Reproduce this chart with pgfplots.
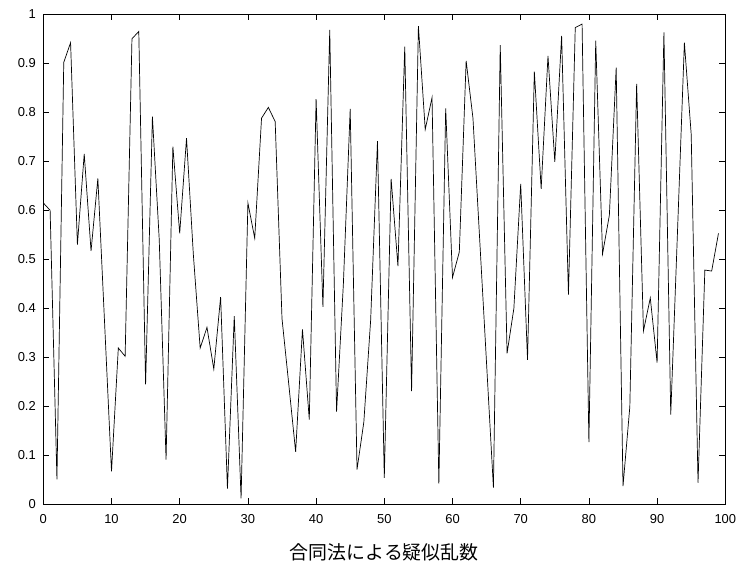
\documentclass[border=0pt]{standalone}
\usepackage{fontspec}
\setmainfont{Liberation Sans}
\newfontfamily\cjk{Noto Sans CJK JP}
\usepackage{pgfplots}
\pgfplotsset{compat=1.18}

\begin{document}
\begin{tikzpicture}
\begin{axis}[
    at={(0bp,0bp)}, anchor=south west,
    scale only axis,
    width=682bp, height=490bp,
    xmin=0, xmax=100, ymin=0, ymax=1,
    xtick={0,10,20,30,40,50,60,70,80,90,100},
    ytick={0,0.1,0.2,0.3,0.4,0.5,0.6,0.7,0.8,0.9,1},
    tick align=inside,
    major tick length=6bp,
    /pgf/number format/assume math mode=true,
    tick label style={font=\fontsize{13}{15}\selectfont},
    xticklabel style={yshift=-6.5bp},
    yticklabel style={xshift=-4bp},
    axis line style={line width=0.7bp},
    every tick/.style={line width=0.7bp, black},
    xlabel={\cjk 合同法による疑似乱数},
    xlabel style={font=\fontsize{19}{22}\selectfont, at={(axis description cs:0.5,0)}, anchor=center, yshift=-48.5bp},
]
% values (x = 0..99)
\addplot[black, line width=0.7bp] coordinates {
(0,0.615) (1,0.600) (2,0.051) (3,0.902) (4,0.942) (5,0.530) (6,0.715) (7,0.517) (8,0.665) (9,0.366)
(10,0.067) (11,0.319) (12,0.302) (13,0.950) (14,0.965) (15,0.245) (16,0.791) (17,0.540) (18,0.091) (19,0.730)
(20,0.553) (21,0.747) (22,0.510) (23,0.319) (24,0.361) (25,0.276) (26,0.423) (27,0.032) (28,0.384) (29,0.012)
(30,0.615) (31,0.543) (32,0.788) (33,0.810) (34,0.781) (35,0.379) (36,0.244) (37,0.107) (38,0.357) (39,0.173)
(40,0.827) (41,0.403) (42,0.968) (43,0.189) (44,0.450) (45,0.807) (46,0.071) (47,0.168) (48,0.376) (49,0.741)
(50,0.054) (51,0.664) (52,0.486) (53,0.934) (54,0.231) (55,0.976) (56,0.765) (57,0.830) (58,0.042) (59,0.808)
(60,0.463) (61,0.515) (62,0.905) (63,0.788) (64,0.537) (65,0.286) (66,0.034) (67,0.937) (68,0.308) (69,0.400)
(70,0.654) (71,0.295) (72,0.883) (73,0.644) (74,0.915) (75,0.699) (76,0.956) (77,0.428) (78,0.973) (79,0.980)
(80,0.127) (81,0.946) (82,0.511) (83,0.590) (84,0.891) (85,0.037) (86,0.199) (87,0.858) (88,0.354) (89,0.421)
(90,0.289) (91,0.963) (92,0.183) (93,0.560) (94,0.942) (95,0.755) (96,0.044) (97,0.478) (98,0.476) (99,0.553)
};
\end{axis}
\pgfresetboundingbox
\useasboundingbox (-43.3bp,-63bp) rectangle (697.7bp,504.3bp);
\end{tikzpicture}
\end{document}
